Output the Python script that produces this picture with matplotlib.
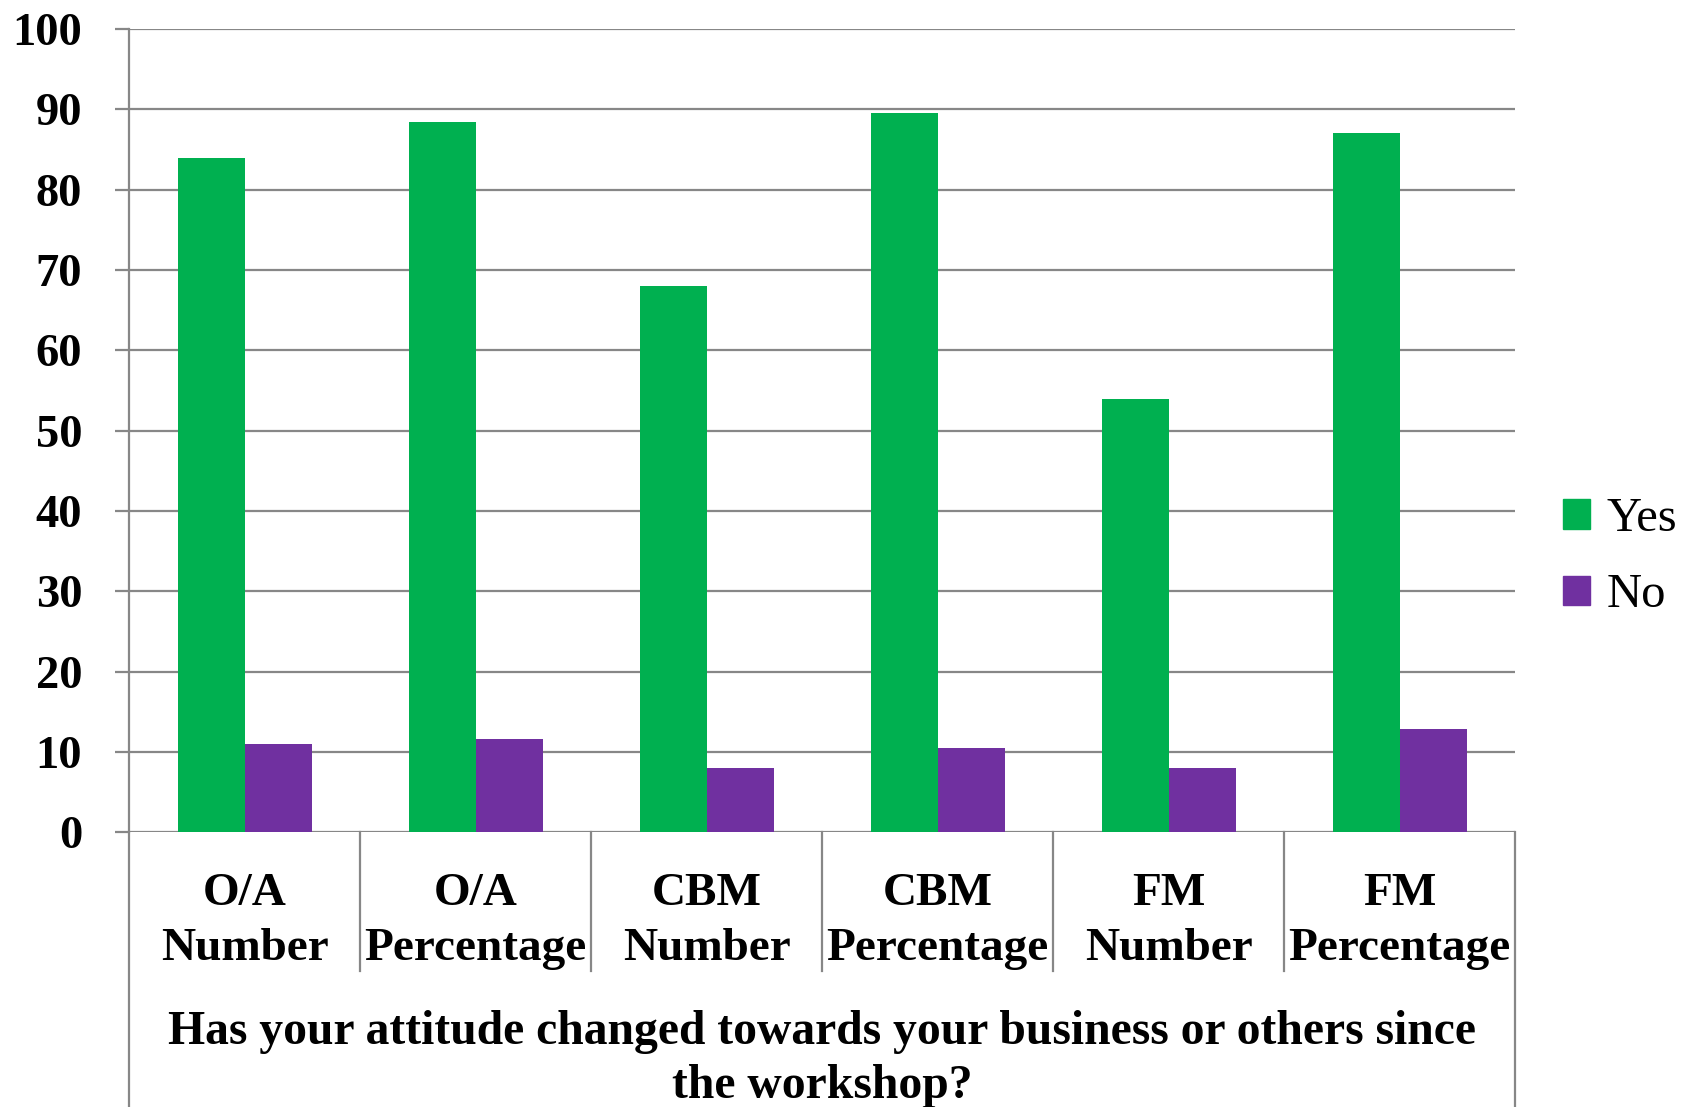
import matplotlib.pyplot as plt
import numpy as np
from matplotlib.patches import Patch

# data
groups = ["O/A", "O/A", "CBM", "CBM", "FM", "FM"]
kinds = ["Number", "Percentage", "Number", "Percentage", "Number", "Percentage"]
yes_vals = [84, 88.4, 68, 89.5, 54, 87.1]
no_vals = [11, 11.6, 8, 10.5, 8, 12.9]
yticks = list(range(0, 101, 10))
question = ["Has your attitude changed towards your business or others since",
            "the workshop?"]

GREEN = "#00B050"
PURPLE = "#7030A0"
GRID = "#878787"
SERIF = ["Liberation Serif", "DejaVu Serif"]

plt.rcParams["font.family"] = SERIF

fig = plt.figure(figsize=(16.91, 11.07), dpi=100)
ax = fig.add_axes([0.0765, 0.248, 0.8195, 0.7257])

x = np.arange(len(groups))
w = 0.29
ax.bar(x - w / 2, yes_vals, w, color=GREEN, label="Yes", zorder=2)
ax.bar(x + w / 2, no_vals, w, color=PURPLE, label="No", zorder=2)

ax.set_xlim(-0.5, len(groups) - 0.5)
ax.set_ylim(0, 100)
ax.set_yticks(yticks)
ax.set_yticklabels([str(t) for t in yticks], fontsize=33.5, fontweight="bold")
ax.yaxis.grid(True, color=GRID, lw=1.6, zorder=1)
ax.set_axisbelow(True)
ax.tick_params(axis="y", direction="out", length=10, width=1.6, color=GRID, pad=24)
ax.set_xticks([])
for s in ["top", "right", "bottom"]:
    ax.spines[s].set_visible(False)
ax.spines["left"].set_color(GRID)
ax.spines["left"].set_linewidth(1.6)

trans = ax.get_xaxis_transform()
# category dividers and outer frame of the multi-level axis
for xd in np.arange(0.5, len(groups) - 1, 1.0):
    ax.plot([xd, xd], [0, -0.172], transform=trans, color=GRID, lw=1.6, clip_on=False)
for xd in [-0.5, len(groups) - 0.5]:
    ax.plot([xd, xd], [0, -0.345], transform=trans, color=GRID, lw=1.6, clip_on=False)

for i in x:
    ax.text(i, -0.0765, groups[i], transform=trans, ha="center", va="center",
            fontsize=34, fontweight="bold")
    ax.text(i, -0.1450, kinds[i], transform=trans, ha="center", va="center",
            fontsize=34, fontweight="bold")

ax.text(2.5, -0.2487, question[0], transform=trans, ha="center", va="center",
        fontsize=34.3, fontweight="bold")
ax.text(2.5, -0.3158, question[1], transform=trans, ha="center", va="center",
        fontsize=34.3, fontweight="bold")

handles = [Patch(color=GREEN, label="Yes"), Patch(color=PURPLE, label="No")]
fig.legend(handles=handles, loc="center left", bbox_to_anchor=(0.9243, 0.4965),
           bbox_transform=fig.transFigure, frameon=False, fontsize=35,
           handlelength=0.55, handleheight=0.55, handletextpad=0.35,
           labelspacing=0.66, borderpad=0, borderaxespad=0)

fig.savefig("out.png", dpi=100)
